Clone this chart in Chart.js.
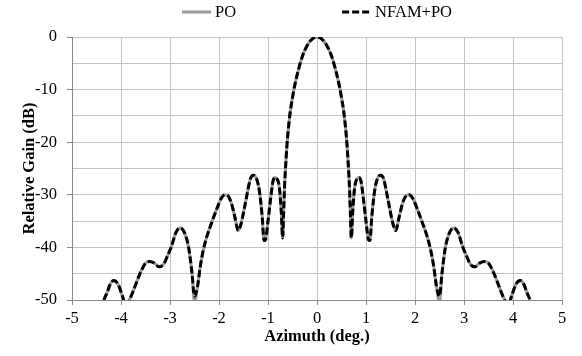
<!DOCTYPE html>
<html lang="en">

<head>
    <meta charset="utf-8" />
    <title>Relative Gain vs Azimuth</title>
    <script src="https://cdn.jsdelivr.net/npm/chart.js"></script>
    <style>
        html,
        body {
            margin: 0;
            padding: 0;
            background: #fff;
        }

        #wrap {
            width: 582px;
            height: 356px;
        }
    </style>
</head>

<body>
    <div id="wrap"><canvas id="myChart" width="582" height="356"></canvas></div>
    <script>
        // Series names and values
        const seriesNames = ['PO', 'NFAM+PO'];

        const azimuth = [
            -4.35, -4.28, -4.22, -4.15, -4.06, -3.98, -3.90, -3.83, -3.75, -3.67, -3.58, -3.50, -3.42, -3.32, -3.22, -3.13,
            -3.05, -2.97, -2.88, -2.79, -2.70, -2.62, -2.55, -2.50, -2.44, -2.38, -2.32, -2.25, -2.15, -2.05, -1.95, -1.88,
            -1.83, -1.75, -1.67, -1.61, -1.55, -1.45, -1.36, -1.30, -1.25, -1.18, -1.12, -1.08, -1.05, -1.00, -0.95, -0.90,
            -0.86, -0.82, -0.77, -0.73, -0.70, -0.68, -0.66, -0.63, -0.60, -0.55, -0.50, -0.45, -0.40, -0.30, -0.20, -0.10,
            0,
            0.10, 0.20, 0.30, 0.40, 0.45, 0.50, 0.55, 0.60, 0.63, 0.66, 0.68, 0.70, 0.73, 0.77, 0.82, 0.86,
            0.90, 0.95, 1.00, 1.05, 1.08, 1.12, 1.18, 1.25, 1.30, 1.36, 1.45, 1.55, 1.61, 1.67, 1.75, 1.83,
            1.88, 1.95, 2.05, 2.15, 2.25, 2.32, 2.38, 2.44, 2.50, 2.55, 2.62, 2.70, 2.79, 2.88, 2.97, 3.05,
            3.13, 3.22, 3.32, 3.42, 3.50, 3.58, 3.67, 3.75, 3.83, 3.90, 3.98, 4.06, 4.15, 4.22, 4.28, 4.35
        ];

        const gainPO = [
            -50.0, -48.5, -47.0, -46.3, -47.0, -49.0, -51.0, -50.0, -48.3, -46.3, -44.3, -43.0, -42.7, -43.0, -43.7, -43.2,
            -41.6, -39.8, -37.2, -36.3, -37.3, -40.0, -45.0, -50.5, -47.5, -43.5, -40.5, -38.0, -35.3, -32.8, -30.6, -30.0,
            -30.1, -31.5, -34.5, -36.8, -35.5, -31.0, -27.0, -26.3, -26.6, -29.0, -34.0, -38.7, -38.5, -35.0, -31.0, -27.5,
            -26.7, -26.9, -28.5, -33.0, -38.2, -33.0, -28.0, -23.0, -19.0, -14.5, -11.5, -9.0, -7.0, -3.7, -1.6, -0.4,
            0,
            -0.4, -1.6, -3.7, -7.0, -9.0, -11.5, -14.5, -19.0, -23.0, -28.0, -33.0, -38.2, -33.0, -28.5, -26.9, -26.7,
            -27.5, -31.0, -35.0, -38.5, -38.7, -34.0, -29.0, -26.6, -26.3, -27.0, -31.0, -35.5, -36.8, -34.5, -31.5, -30.1,
            -30.0, -30.6, -32.8, -35.3, -38.0, -40.5, -43.5, -47.5, -50.5, -45.0, -40.0, -37.3, -36.3, -37.2, -39.8, -41.6,
            -43.2, -43.7, -43.0, -42.7, -43.0, -44.3, -46.3, -48.3, -50.0, -51.0, -49.0, -47.0, -46.3, -47.0, -48.5, -50.0
        ];

        const gainNFAM = [
            -50.0, -48.5, -47.0, -46.3, -47.0, -49.0, -51.0, -50.0, -48.3, -46.3, -44.3, -43.0, -42.7, -43.0, -43.7, -43.2,
            -41.6, -39.8, -37.2, -36.3, -37.3, -40.0, -45.0, -49.3, -47.5, -43.5, -40.5, -38.0, -35.3, -32.8, -30.6, -30.0,
            -30.1, -31.5, -34.5, -36.8, -35.5, -31.0, -27.0, -26.3, -26.6, -29.0, -34.0, -38.7, -38.5, -35.0, -31.0, -27.5,
            -26.7, -26.9, -28.5, -33.0, -38.2, -33.0, -28.0, -23.0, -19.0, -14.5, -11.5, -9.0, -7.0, -3.7, -1.6, -0.4,
            0,
            -0.4, -1.6, -3.7, -7.0, -9.0, -11.5, -14.5, -19.0, -23.0, -28.0, -33.0, -38.2, -33.0, -28.5, -26.9, -26.7,
            -27.5, -31.0, -35.0, -38.5, -38.7, -34.0, -29.0, -26.6, -26.3, -27.0, -31.0, -35.5, -36.8, -34.5, -31.5, -30.1,
            -30.0, -30.6, -32.8, -35.3, -38.0, -40.5, -43.5, -47.5, -49.3, -45.0, -40.0, -37.3, -36.3, -37.2, -39.8, -41.6,
            -43.2, -43.7, -43.0, -42.7, -43.0, -44.3, -46.3, -48.3, -50.0, -51.0, -49.0, -47.0, -46.3, -47.0, -48.5, -50.0
        ];

        // axis ranges and labelled ticks
        const xRange = [-5, 5];
        const yRange = [-50, 0];
        const yLabelled = [0, -10, -20, -30, -40, -50];

        const FONT = '"Liberation Serif", "Times New Roman", serif';
        const FS = 16.5;

        const toPoints = (xs, ys) => xs.map((x, i) => ({ x: x, y: ys[i] }));

        // legend drawn above the plot, centred on the plot area (like the original)
        const topLegend = {
            id: 'topLegend',
            afterDraw(chart) {
                const ctx = chart.ctx;
                const area = chart.chartArea;
                const lineLen = 29, textGap = 4, itemGap = 106, y = 12;
                ctx.save();
                ctx.font = FS + 'px ' + FONT;
                ctx.textBaseline = 'middle';
                const sets = chart.data.datasets;
                const widths = sets.map(ds => ctx.measureText(ds.label).width);
                let total = itemGap * (sets.length - 1);
                widths.forEach(w => total += lineLen + textGap + w);
                let x = (area.left + area.right) / 2 - total / 2;
                sets.forEach((ds, i) => {
                    ctx.strokeStyle = ds.borderColor;
                    ctx.lineWidth = ds.borderWidth;
                    ctx.setLineDash(ds.borderDash || []);
                    ctx.beginPath();
                    ctx.moveTo(x, y);
                    ctx.lineTo(x + lineLen, y);
                    ctx.stroke();
                    ctx.setLineDash([]);
                    ctx.fillStyle = '#000';
                    ctx.fillText(ds.label, x + lineLen + textGap, y + 1);
                    x += lineLen + textGap + widths[i] + itemGap;
                });
                ctx.restore();
            }
        };

        const ctx = document.getElementById('myChart').getContext('2d');
        const myChart = new Chart(ctx, {
            type: 'line',
            data: {
                datasets: [{
                    label: seriesNames[0],
                    data: toPoints(azimuth, gainPO),
                    borderColor: '#9a9a9a',
                    borderWidth: 3,
                    pointRadius: 0,
                    cubicInterpolationMode: 'monotone',
                    clip: 0,
                    order: 2
                }, {
                    label: seriesNames[1],
                    data: toPoints(azimuth, gainNFAM),
                    borderColor: '#000000',
                    borderWidth: 3,
                    borderDash: [7, 3],
                    pointRadius: 0,
                    cubicInterpolationMode: 'monotone',
                    clip: 0,
                    order: 1
                }]
            },
            options: {
                responsive: false,
                animation: false,
                events: [],
                layout: {
                    padding: { top: 37, right: 20, left: 0, bottom: 0 }
                },
                plugins: {
                    legend: { display: false },
                    tooltip: { enabled: false }
                },
                scales: {
                    x: {
                        type: 'linear',
                        min: xRange[0],
                        max: xRange[1],
                        afterFit: scale => { scale.height = 56; },
                        ticks: {
                            stepSize: 1,
                            color: '#000',
                            padding: 4,
                            font: { family: FONT, size: FS }
                        },
                        grid: {
                            color: '#c4c4c4',
                            tickColor: '#888',
                            tickLength: 5
                        },
                        border: { color: '#888' },
                        title: {
                            display: true,
                            text: 'Azimuth (deg.)',
                            color: '#000',
                            padding: { top: 0, bottom: 9 },
                            font: { family: FONT, size: FS, weight: 'bold' }
                        }
                    },
                    y: {
                        min: yRange[0],
                        max: yRange[1],
                        afterFit: scale => { scale.width = 72; },
                        ticks: {
                            stepSize: 5,
                            color: '#000',
                            padding: 10,
                            font: { family: FONT, size: FS },
                            callback: v => yLabelled.includes(v) ? v : ''
                        },
                        grid: {
                            color: '#c4c4c4',
                            tickColor: c => yLabelled.includes(c.tick.value) ? '#888' : 'rgba(0,0,0,0)',
                            tickLength: 5
                        },
                        border: { color: '#888' },
                        title: {
                            display: true,
                            text: 'Relative Gain (dB)',
                            color: '#000',
                            padding: { top: 20, bottom: 0 },
                            font: { family: FONT, size: FS, weight: 'bold' }
                        }
                    }
                }
            },
            plugins: [topLegend]
        });
    </script>
</body>

</html>
